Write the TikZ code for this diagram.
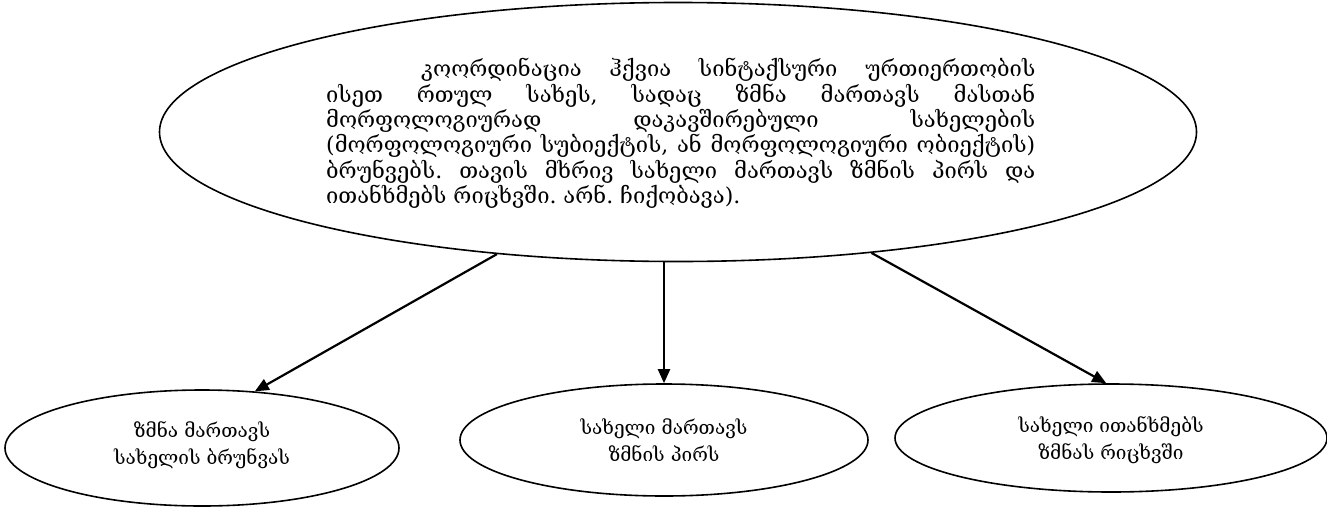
\documentclass[tikz,border=0pt]{standalone}
\usepackage{fontspec}
\setmainfont{DejaVu Serif}
\usetikzlibrary{shapes.geometric,arrows.meta}
\newlength\lastlinew
\tikzset{
  oval/.style={draw,ellipse,line width=1.6pt,inner sep=0pt},
  conn/.style={line width=2.2pt,-{Triangle[length=14pt,width=12pt]}},
  lbl/.style={align=center,font=\fontsize{19}{27}\selectfont,inner sep=0pt}
}
\begin{document}
\frenchspacing
\settowidth{\lastlinew}{\fontsize{10}{12}\selectfont ითანხმებს რიცხვში. არნ. ჩიქობავა).}
\pgfmathsetmacro{\mainsize}{10*414/\lastlinew}
\begin{tikzpicture}[x=1pt,y=-1pt]
\useasboundingbox (0,0) rectangle (1327,506);
\node[oval,minimum width=1037pt,minimum height=259pt] (big) at (678,132) {};
\node[inner sep=0pt,text width=709pt,align=justify,anchor=north west,font=\fontsize{\mainsize}{25.4}\selectfont] (txt) at (326,58) {%
\frenchspacing\parindent=95pt\indent კოორდინაცია ჰქვია სინტაქსური ურთიერთობის\linebreak
ისეთ რთულ სახეს, სადაც ზმნა მართავს მასთან\linebreak
მორფოლოგიურად დაკავშირებული სახელების\linebreak
(მორფოლოგიური სუბიექტის, ან მორფოლოგიური ობიექტის)\linebreak
ბრუნვებს. თავის მხრივ სახელი მართავს ზმნის პირს და\linebreak
ითანხმებს რიცხვში. არნ. ჩიქობავა).\par};
\node[oval,minimum width=394pt,minimum height=116pt] (l) at (202,448) {};
\node[oval,minimum width=408pt,minimum height=112pt] (m) at (664,440) {};
\node[oval,minimum width=432pt,minimum height=108pt] (r) at (1111,438) {};
\node[lbl] (lt) at (202,445) {ზმნა მართავს\\სახელის ბრუნვას};
\node[lbl] (mt) at (664,440) {სახელი მართავს\\ზმნის პირს};
\node[lbl] (rt) at (1111,440) {სახელი ითანხმებს\\ზმნას რიცხვში};
\draw[conn] (big.214) -- (l.47);
\draw[conn] (big.south -| m.north) -- (m.north);
\draw[conn] (big.328.7) -- (r.95);
\end{tikzpicture}
\end{document}
